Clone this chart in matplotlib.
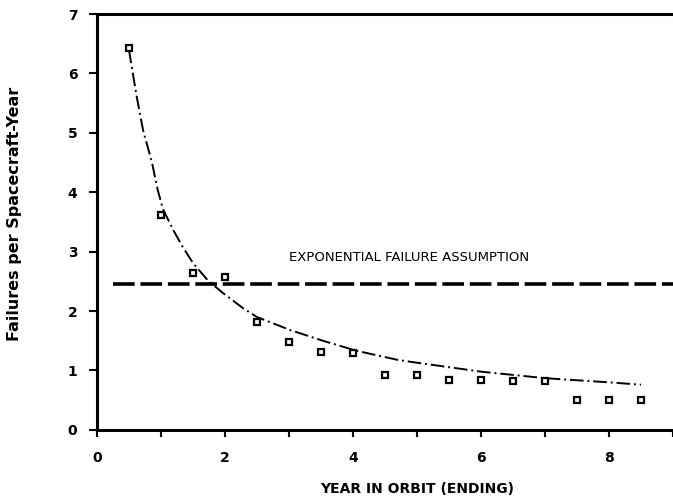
import numpy as np
import matplotlib
matplotlib.use("Agg")
import matplotlib.pyplot as plt

# observed failure rates (per spacecraft-year) by year in orbit
years = [0.5, 1.0, 1.5, 2.0, 2.5, 3.0, 3.5, 4.0, 4.5, 5.0, 5.5, 6.0, 6.5, 7.0, 7.5, 8.0, 8.5]
rates = [6.42, 3.62, 2.64, 2.58, 1.82, 1.48, 1.31, 1.29, 0.93, 0.93, 0.84, 0.84, 0.82, 0.82, 0.50, 0.50, 0.50]

# fitted (decreasing) curve
fit_x = [0.5, 0.62, 0.72, 0.86, 0.95, 1.03, 1.19, 1.34, 1.5, 1.73, 1.95, 2.28, 2.5,
         3.02, 3.53, 4.06, 4.69, 5.0, 6.0, 7.0, 8.0, 8.5]
fit_y = [6.40, 5.62, 5.05, 4.50, 4.04, 3.72, 3.37, 3.08, 2.81, 2.52, 2.32, 2.05, 1.90,
         1.68, 1.50, 1.33, 1.18, 1.13, 0.98, 0.87, 0.80, 0.76]

# constant-rate assumption
exp_rate = 2.45
exp_x = [0.25, 9.0]

fig = plt.figure(figsize=(6.73, 5.01), dpi=100)
ax = fig.add_axes([0.144, 0.142, 0.856, 0.830])

ax.plot(exp_x, [exp_rate, exp_rate], color="black", lw=2.6, ls=(0, (6, 1.6)))
ax.plot(fit_x, fit_y, color="black", lw=1.4, ls=(0, (7, 2, 1, 2)))
ax.plot(years, rates, ls="none", marker="s", ms=5, mfc="white", mec="black", mew=1.6)

ax.text(3.0, 2.9, "EXPONENTIAL FAILURE ASSUMPTION", fontsize=9.5, va="center", ha="left")

ax.set_xlim(0, 9)
ax.set_ylim(0, 7)
ax.set_xticks(range(0, 10))
ax.set_xticklabels(["0", "", "2", "", "4", "", "6", "", "8", ""])
ax.set_yticks(range(0, 8))
for lab in ax.get_xticklabels() + ax.get_yticklabels():
    lab.set_fontweight("bold")
    lab.set_fontsize(10)
ax.tick_params(axis="x", direction="out", length=5, width=1.5, pad=10)
ax.tick_params(axis="y", direction="out", length=6, width=1.5, pad=8)

ax.spines["right"].set_visible(False)
for s in ["left", "top", "bottom"]:
    ax.spines[s].set_linewidth(2.2)

ax.set_xlabel("YEAR IN ORBIT (ENDING)", fontsize=10, fontweight="bold")
ax.xaxis.set_label_coords(0.555, -0.125)
ax.set_ylabel("Failures per Spacecraft-Year", fontsize=11.5, fontweight="bold")
ax.yaxis.set_label_coords(-0.13, 0.52)

fig.savefig("out.png", dpi=100)
